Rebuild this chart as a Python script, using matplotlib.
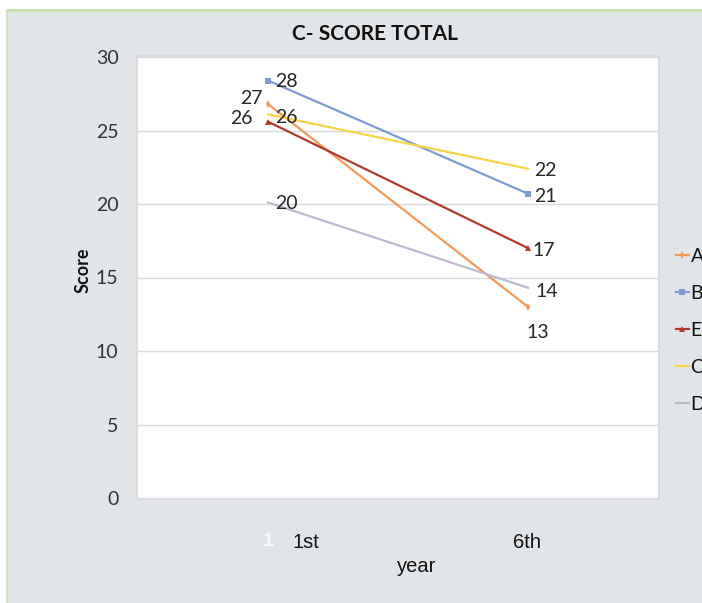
import matplotlib
matplotlib.use("Agg")
import matplotlib.pyplot as plt
from matplotlib.patches import Rectangle
from matplotlib.lines import Line2D

# ---------------- data ----------------
categories = ["1st", "6th"]
hidden_tick = "1"
series_names = ["A", "B", "E", "C", "D"]
A_vals = [26.8, 13.0]
B_vals = [28.4, 20.7]
E_vals = [25.6, 17.0]
C_vals = [26.1, 22.4]
D_vals = [20.1, 14.3]
y_ticks = [0, 5, 10, 15, 20, 25, 30]
title = "C- SCORE TOTAL"
y_label = "Score"
x_label = "year"

series_vals = [A_vals, B_vals, E_vals, C_vals, D_vals]
colors = ["#f2995a", "#7e9bd6", "#b23a2d", "#f6d548", "#bdb9cf"]
markers = ["d", "s", "^", None, None]
msizes = [4, 4.5, 4, 0, 0]
# label offsets in pixels (dx, dy, ha) for [1st, 6th]
label_offsets = {
    "A": [(-5, 6, "right"), (10, -26, "center")],
    "B": [(7, -1, "left"), (6, -3, "left")],
    "E": [(-15, 3, "right"), (4, -2, "left")],
    "C": [(7, -3, "left"), (6, -2, "left")],
    "D": [(7, -1, "left"), (7, -4, "left")],
}

W, H = 702, 603
fig = plt.figure(figsize=(W / 100, H / 100), dpi=100)
fig.patch.set_facecolor("white")

# background panel with green border
fig.patches.append(Rectangle((7 / W, 0 / H), (W - 7) / W, (H - 11) / H,
                             transform=fig.transFigure, facecolor="#e2e5e8",
                             edgecolor="none", zorder=0))
fig.lines.append(Line2D([7 / W, 1], [1 - 10 / H, 1 - 10 / H], transform=fig.transFigure,
                        color="#c4dfa8", lw=2.0, zorder=1))
fig.lines.append(Line2D([7 / W, 7 / W], [0, 1 - 10 / H], transform=fig.transFigure,
                        color="#d2e3c4", lw=1.5, zorder=1))

# plot-area shadow
fig.patches.append(Rectangle((136 / W, 1 - 500 / H), 524 / W, 445 / H,
                             transform=fig.transFigure, facecolor="#dadcdf",
                             edgecolor="none", zorder=1))

ax = fig.add_axes([138 / W, 1 - 498 / H, 520 / W, 441 / H])
ax.set_facecolor("white")
ax.set_zorder(2)
for s in ax.spines.values():
    s.set_visible(False)

x = list(range(len(categories)))
handles = []
for name, vals, c, m, ms in zip(series_names, series_vals, colors, markers, msizes):
    (ln,) = ax.plot(x, vals, color=c, lw=1.6, marker=m, markersize=ms,
                    markeredgewidth=0, label=name, zorder=3, clip_on=False)
    handles.append(ln)
    for i, v in enumerate(vals):
        dx, dy, ha = label_offsets[name][i]
        ax.annotate(f"{round(v):d}", xy=(i, v), xytext=(dx, dy),
                    textcoords="offset pixels", ha=ha, va="center",
                    fontsize=14, family="Lato", color="#262626", zorder=4)

ax.set_xlim(-0.5, 1.5)
ax.set_ylim(0, 30)
ax.set_yticks(y_ticks)
ax.set_yticklabels([str(t) for t in y_ticks], family="Lato", fontsize=14, color="#333333")
ax.tick_params(axis="y", length=0, pad=14)
ax.set_xticks(x)
ax.set_xticklabels(["" for _ in x])
ax.tick_params(axis="x", length=0)
ax.yaxis.grid(True, color="#d9d9d9", lw=1.0)
ax.set_axisbelow(True)

# faint white tick glyph and category labels
ax.annotate(hidden_tick, xy=(0, 0), xycoords=("data", "axes fraction"),
            xytext=(0, -44), textcoords="offset pixels", ha="center", va="center",
            fontsize=14, family="Liberation Sans", color="white", alpha=0.9,
            fontweight="bold")
cat_offsets = [38, -1]
for i, cat in enumerate(categories):
    ax.annotate(cat, xy=(i, 0), xycoords=("data", "axes fraction"),
                xytext=(cat_offsets[i], -44), textcoords="offset pixels",
                ha="center", va="center", fontsize=14.5,
                family="Liberation Sans", color="#111111")

ax.set_xlabel(x_label, family="Liberation Sans", fontsize=14.5, color="#111111", va="center")
ax.xaxis.set_label_coords((417 - 138) / 520, -(567 - 498) / 441)

ax.set_ylabel(y_label, family="Lato", fontweight="bold", fontsize=13, color="#111111",
              va="center")
ax.yaxis.set_label_coords(-(138 - 83) / 520, (498 - 270) / 441)

fig.text(375 / W, 1 - 34 / H, title, ha="center", va="center",
         family="Lato", fontweight="bold", fontsize=15, color="#111111")

leg = ax.legend(handles=handles, loc="upper left",
                bbox_to_anchor=(676 / W, 1 - 248 / H), bbox_transform=fig.transFigure,
                frameon=False, borderpad=0, borderaxespad=0, handlelength=0.65,
                handletextpad=0.1, labelspacing=1.03,
                prop={"family": "Lato", "size": 14})
for t in leg.get_texts():
    t.set_color("#111111")

fig.savefig("out.png", dpi=100, facecolor=fig.get_facecolor())
